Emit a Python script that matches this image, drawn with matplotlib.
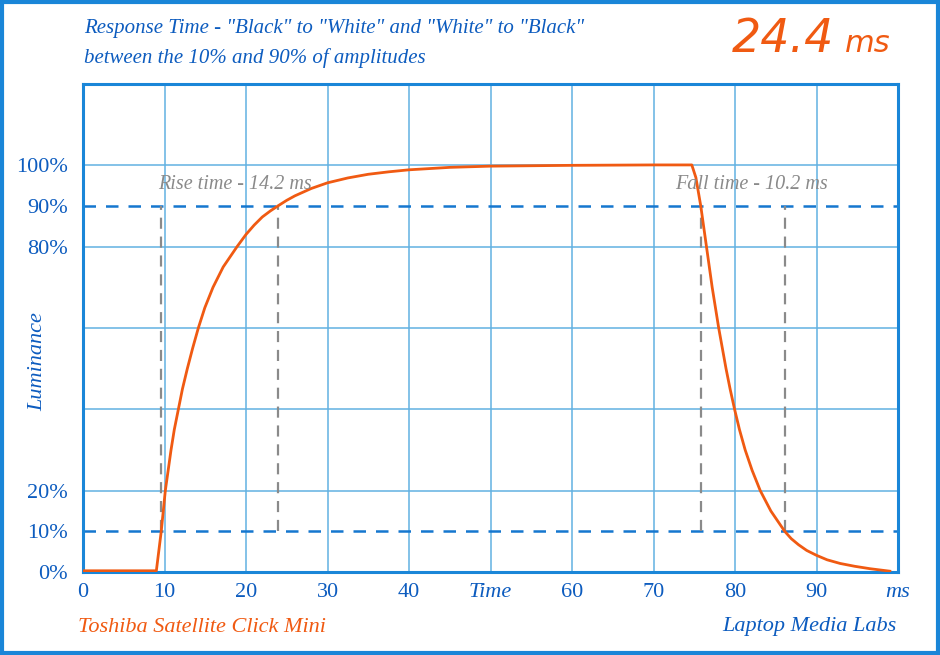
import matplotlib.pyplot as plt
from matplotlib.patches import Rectangle

# curve (ms, % luminance)
time_ms = [0, 9.0, 9.6, 9.85, 10.1, 10.45, 10.8, 11.2, 11.7, 12.2, 12.8, 13.45, 14.15,
           14.95, 15.95, 17.2, 18.9, 20.0, 21.0, 22.0, 23.0, 23.9, 25.0, 26.0, 28.0,
           30.0, 32.5, 35.0, 37.5, 40.0, 45.0, 50.0, 55.0, 60.0, 70.0, 74.7,
           75.2, 75.8, 76.15, 76.5, 76.85, 77.2, 77.6, 78.0, 78.45, 78.9, 79.4, 79.95,
           80.55, 81.25, 82.1, 83.1, 84.4, 86.1, 86.9, 87.8, 88.8, 90.0,
           91.3, 92.9, 94.7, 96.6, 99.0]
luminance = [0.3, 0.3, 10, 15, 20, 25, 30, 35, 40, 45, 50, 55, 60,
             65, 70, 75, 80, 83, 85.3, 87.3, 88.8, 90, 91.4, 92.5, 94.3,
             95.7, 96.9, 97.8, 98.4, 98.9, 99.5, 99.8, 99.9, 100, 100.1, 100.1,
             97, 90, 85, 80, 75, 70, 65, 60, 55, 50, 45, 40,
             35, 30, 25, 20, 15, 10, 8.2, 6.7, 5.3, 4.1,
             3.0, 2.1, 1.4, 0.8, 0.2]

rise_marks = [9.6, 23.9]
fall_marks = [75.8, 86.1]
x_ticks = [0, 10, 20, 30, 40, 50, 60, 70, 80, 90, 100]
x_labels = ['0', '10', '20', '30', '40', 'Time', '60', '70', '80', '90', 'ms']
y_ticks = [0, 10, 20, 80, 90, 100]
y_labels = ['0%', '10%', '20%', '80%', '90%', '100%']
grid_y = [20, 40, 60, 80, 100]

blue = '#0d5cbf'
frame_blue = '#1a86d8'
grid_blue = '#62b2e2'
orange = '#f05a12'
gray = '#8a8a8a'
font = 'Liberation Serif'

fig = plt.figure(figsize=(9.4, 6.55), dpi=100)
ax = fig.add_axes([83/940, 1-572/655, 815/940, 488/655])
ax.set_xlim(0, 100)
ax.set_ylim(0, 120)

for x in x_ticks[1:-1]:
    ax.axvline(x, color=grid_blue, lw=1.1, zorder=1)
for y in grid_y:
    ax.axhline(y, color=grid_blue, lw=1.1, zorder=1)
for y in [10, 90]:
    ax.axhline(y, color='#1577cf', lw=1.8, ls=(0, (5, 4)), zorder=2)

for x in rise_marks + fall_marks:
    ax.plot([x, x], [10, 90], color=gray, lw=1.6, ls=(0, (5, 3.5)), zorder=2)

ax.plot(time_ms, luminance, color=orange, lw=2, zorder=3)

ax.text(18.6, 95.3, 'Rise time - 14.2 ms', color=gray, fontsize=14.5, family=font,
        style='italic', ha='center', va='center')
ax.text(82.0, 95.3, 'Fall time - 10.2 ms', color=gray, fontsize=14.5, family=font,
        style='italic', ha='center', va='center')

ax.set_xticks(x_ticks)
ax.set_xticklabels(x_labels)
ax.set_yticks(y_ticks)
ax.set_yticklabels(y_labels)
ax.tick_params(length=0, colors=blue, labelsize=16)
ax.tick_params(axis='y', pad=11)
ax.tick_params(axis='x', pad=8)
for lab in ax.get_xticklabels() + ax.get_yticklabels():
    lab.set_family(font)
ax.get_xticklabels()[5].set_style('italic')
ax.get_xticklabels()[-1].set_style('italic')
for s in ax.spines.values():
    s.set_color(frame_blue)
    s.set_linewidth(2.2)

fig.text(38/940, 1-362/655, 'Luminance', color=blue, fontsize=16, family=font,
         style='italic', rotation=90, ha='center', va='center')

fig.text(84/940, 1-28/655, 'Response Time - "Black" to "White" and "White" to "Black"',
         color=blue, fontsize=15, family=font, style='italic', va='center')
fig.text(84/940, 1-58/655, 'between the 10% and 90% of amplitudes',
         color=blue, fontsize=15, family=font, style='italic', va='center')
fig.text(834/940, 1-40/655, '24.4', color=orange, fontsize=33, style='italic',
         ha='right', va='center')
fig.text(845/940, 1-44/655, 'ms', color=orange, fontsize=22, style='italic',
         ha='left', va='center')
fig.text(78/940, 1-627/655, 'Toshiba Satellite Click Mini', color=orange, fontsize=16,
         family=font, style='italic', va='center')
fig.text(897/940, 1-627/655, 'Laptop Media Labs', color=blue, fontsize=16,
         family=font, style='italic', va='center', ha='right')

fig.patches.append(Rectangle((0.002, 0.003), 0.996, 0.994, transform=fig.transFigure,
                             fill=False, edgecolor=frame_blue, lw=3))

fig.savefig('out.png', dpi=100)
